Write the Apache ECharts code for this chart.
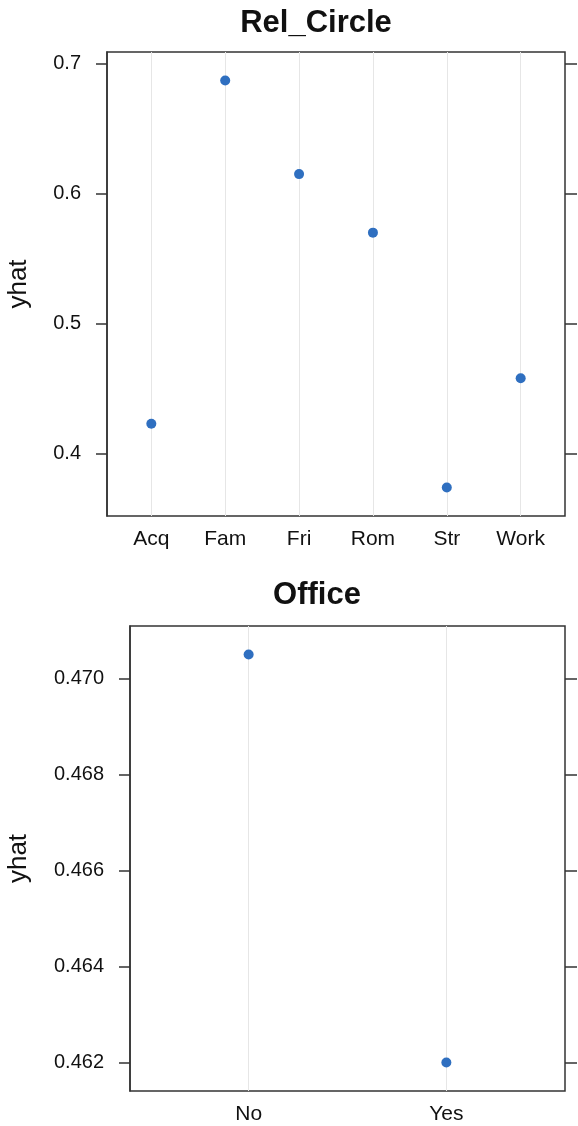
<!DOCTYPE html>
<html>
<head>
<meta charset="utf-8">
<script src="https://cdn.jsdelivr.net/npm/echarts@6/dist/echarts.min.js"></script>
<style>
  html, body { margin: 0; padding: 0; background: #fff; }
  #chart { width: 578px; height: 1126px; }
</style>
</head>
<body>
<div id="chart"></div>
<script>
// panel 1: Rel_Circle
const relCats = ["Acq", "Fam", "Fri", "Rom", "Str", "Work"];
const relYhat = [0.423, 0.687, 0.615, 0.570, 0.374, 0.458];
const relTicks = [0.4, 0.5, 0.6, 0.7];

// panel 2: Office
const officeCats = ["No", "Yes"];
const officeYhat = [0.4705, 0.4620];
const officeTicks = [0.462, 0.464, 0.466, 0.468, 0.470];

const FONT = "Liberation Sans";
const DOT = "#2f6fc0";
const BOX = "#333";

// lattice style padding: 7% of data range each side
function yRange(vals) {
  const lo = Math.min(...vals), hi = Math.max(...vals);
  const pad = (hi - lo) * 0.07;
  return [lo - pad, hi + pad];
}

function panel(idx, cats, vals, ticks, digits) {
  const [ymin, ymax] = yRange(vals);
  const tickLabel = { fontFamily: FONT, fontSize: 20, color: "#111" };
  return {
    xAxis: {
      type: "value",
      gridIndex: idx,
      min: 0.4,
      max: cats.length + 0.6,
      axisLine: { show: false },
      axisTick: { show: false },
      splitLine: { show: false },
      axisLabel: Object.assign({}, tickLabel, {
        customValues: cats.map((c, i) => i + 1),
        formatter: (v) => cats[Math.round(v) - 1] || "",
        margin: 13,
        fontSize: 21,
      }),
    },
    yAxes: [
      {
        type: "value",
        gridIndex: idx,
        position: "left",
        min: ymin,
        max: ymax,
        name: "yhat",
        nameLocation: "middle",
        nameRotate: 90,
        nameGap: idx === 0 ? 75 : 98,
        nameTextStyle: { fontFamily: FONT, fontSize: 26, color: "#111" },
        axisLine: { show: true, lineStyle: { color: BOX, width: 1.5 } },
        axisTick: {
          show: true,
          length: 11,
          customValues: ticks,
          lineStyle: { color: BOX, width: 1.5 },
        },
        splitLine: { show: false },
        axisLabel: Object.assign({}, tickLabel, {
          customValues: ticks,
          margin: 26,
          formatter: (v) => v.toFixed(digits),
        }),
      },
      {
        type: "value",
        gridIndex: idx,
        position: "right",
        min: ymin,
        max: ymax,
        axisLine: { show: false },
        axisTick: {
          show: true,
          length: 12,
          customValues: ticks,
          lineStyle: { color: BOX, width: 1.5 },
        },
        axisLabel: { show: false },
        splitLine: { show: false },
      },
    ],
    series: {
      type: "scatter",
      xAxisIndex: idx,
      yAxisIndex: idx * 2,
      symbol: "circle",
      symbolSize: 10,
      itemStyle: { color: DOT, opacity: 1 },
      data: vals.map((v, i) => [i + 1, v]),
      z: 5,
      markLine: {
        silent: true,
        symbol: ["none", "none"],
        label: { show: false },
        lineStyle: { color: "#e6e6e6", type: "solid", width: 1, opacity: 1 },
        data: cats.map((c, i) => ({ xAxis: i + 1 })),
        animation: false,
      },
    },
  };
}

const p1 = panel(0, relCats, relYhat, relTicks, 1);
const p2 = panel(1, officeCats, officeYhat, officeTicks, 3);

const chart = echarts.init(document.getElementById("chart"));
chart.setOption({
  animation: false,
  backgroundColor: "#fff",
  title: [
    {
      text: "Rel_Circle",
      left: 311,
      top: 3,
      textAlign: "center",
      textStyle: { fontFamily: FONT, fontSize: 31, fontWeight: "bold", color: "#111" },
    },
    {
      text: "Office",
      left: 312,
      top: 575,
      textAlign: "center",
      textStyle: { fontFamily: FONT, fontSize: 31, fontWeight: "bold", color: "#111" },
    },
  ],
  grid: [
    { left: 107, top: 52, width: 458, height: 464, outerBoundsMode: "none", containLabel: false, show: true, borderColor: BOX, borderWidth: 1.5, backgroundColor: "transparent" },
    { left: 130, top: 626, width: 435, height: 465, outerBoundsMode: "none", containLabel: false, show: true, borderColor: BOX, borderWidth: 1.5, backgroundColor: "transparent" },
  ],
  xAxis: [p1.xAxis, p2.xAxis],
  yAxis: [...p1.yAxes, ...p2.yAxes],
  series: [p1.series, p2.series],
});
</script>
</body>
</html>
